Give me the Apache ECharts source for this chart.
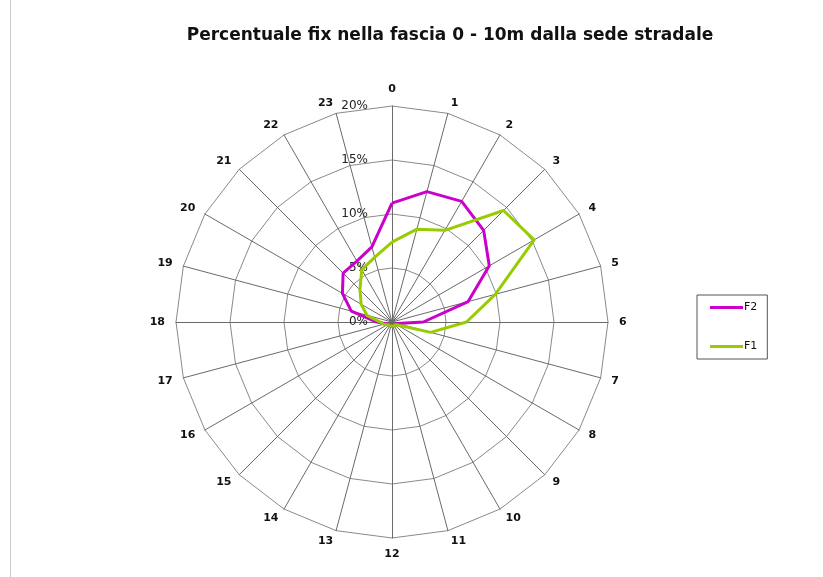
<!DOCTYPE html>
<html><head><meta charset="utf-8">
<script src="https://cdn.jsdelivr.net/npm/echarts@6/dist/echarts.min.js"></script>
<style>html,body{margin:0;padding:0;background:#fff}#c{width:823px;height:577px}</style>
</head><body><div id="c"></div>
<script>
const titleText = 'Percentuale fix nella fascia 0 - 10m dalla sede stradale';
const hours = ['0','1','2','3','4','5','6','7','8','9','10','11','12','13','14','15','16','17','18','19','20','21','22','23'];
const f2 = [11.0,12.5,12.9,12.0,10.4,7.3,2.9,0.5,0.4,0.4,0.4,0.4,0.4,0.4,0.4,0.4,0.4,0.6,1.4,3.9,5.3,6.4,6.5,7.2];
const f1 = [7.4,8.9,9.8,14.6,15.2,9.9,6.9,3.7,0.5,0.4,0.4,0.4,0.4,0.4,0.4,0.4,0.5,0.8,1.1,2.4,3.3,4.2,5.6,6.2];
const radiusTicks = ['0%','5%','10%','15%','20%'];
const seriesNames = ['F2','F1'];

// ECharts radar runs counter-clockwise: reorder so hours go clockwise
const order = [0].concat(hours.slice(1).map((h,i)=>hours.length-1-i));
const indicators = order.map((i,k)=>{
  const ind = {name:hours[i], min:0, max:20};
  if(k===0) ind.axisLabel = {show:true, formatter:(v)=>radiusTicks[Math.round(v/5)] || ''};
  return ind;
});
const reorder = arr => order.map(i=>arr[i]);

const chart = echarts.init(document.getElementById('c'), null, {renderer:'canvas'});
chart.setOption({
  backgroundColor:'#fff',
  animation:false,
  title:{text:titleText, left:445, textAlign:'center', top:22, textStyle:{fontFamily:'DejaVu Sans', fontWeight:'bold', fontSize:17, color:'#111'}},
  legend:{
    orient:'vertical', left:697, top:295,
    data:seriesNames,
    icon:'rect', itemWidth:33, itemHeight:3, itemGap:28,
    padding:[7,10,7,13],
    borderColor:'#555', borderWidth:1,
    textStyle:{fontFamily:'DejaVu Sans', fontSize:11, color:'#111', padding:[0,0,0,-4]}
  },
  graphic:[{type:'line', silent:true, shape:{x1:10.5, y1:0, x2:10.5, y2:577}, style:{stroke:'#c8c8c8', lineWidth:1}}],
  radar:{
    center:[392,322], radius:216, startAngle:90, splitNumber:4, shape:'polygon',
    indicator:indicators,
    axisName:{color:'#111', fontFamily:'DejaVu Sans', fontWeight:'bold', fontSize:11},
    nameGap:11,
    splitLine:{lineStyle:{color:'#8a8a8a', width:1}},
    splitArea:{show:false},
    axisLine:{lineStyle:{color:'#6a6a6a', width:1}},
    axisTick:{show:false},
    axisLabel:{show:false, color:'#222', fontFamily:'DejaVu Sans', fontSize:12, margin:24}
  },
  series:[{
    type:'radar', symbol:'none',
    data:[
      {name:'F2', value:reorder(f2), lineStyle:{color:'#cc00cc', width:3}, itemStyle:{color:'#cc00cc'}},
      {name:'F1', value:reorder(f1), lineStyle:{color:'#99cc00', width:3}, itemStyle:{color:'#99cc00'}}
    ]
  }]
});
</script></body></html>
